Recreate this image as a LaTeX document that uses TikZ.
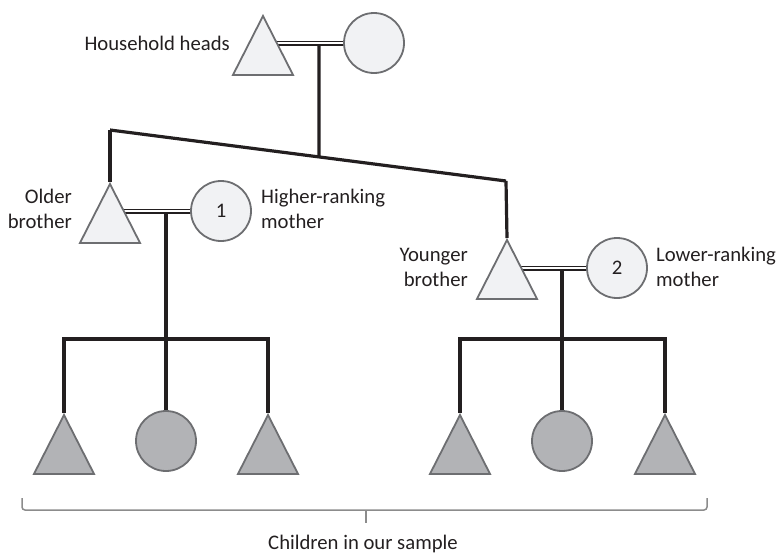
\documentclass[tikz,border=0pt]{standalone}
\usepackage{fontspec}
\setmainfont{Carlito}
\usepackage{tikz}
\usetikzlibrary{shapes.geometric, positioning, calc, backgrounds}
\definecolor{lightfill}{HTML}{F1F2F4}
\definecolor{darkfill}{HTML}{B2B3B6}
\definecolor{outline}{HTML}{6D6E71}
\definecolor{kinline}{HTML}{231F20}
\definecolor{bracegray}{HTML}{8C8C8C}

\begin{document}
\begin{tikzpicture}[
  x=1pt, y=-1pt,
  tri/.style={
    isosceles triangle, isosceles triangle apex angle=54,
    shape border rotate=90, minimum height=59pt, inner sep=0pt,
    draw=outline, line width=1.8pt, fill=lightfill
  },
  circ/.style={
    circle, minimum size=60pt, inner sep=0pt,
    draw=outline, line width=1.8pt, fill=lightfill,
    font=\fontsize{20.7}{25}\selectfont, text=kinline
  },
  child/.style={fill=darkfill},
  kin/.style={draw=kinline, line width=3.2pt},
  marry/.style={draw=kinline, line width=1.4pt, double=white, double distance=2.2pt},
  lbl/.style={font=\fontsize{20.7}{25}\selectfont, text=kinline, inner sep=0pt}
]
  \useasboundingbox (0,0) rectangle (777,557);

  % household heads
  \node[tri, anchor=apex] (hh) at (263,14) {};
  \node[circ] (hw) at (374,43) {};
  \node[lbl, anchor=east, align=right] (hhl) at (230,43) {Household heads};

  % brothers and wives
  \node[tri, anchor=apex] (ob) at (110,182) {};
  \node[circ] (hm) at (221,211) {1};
  \node[tri, anchor=apex] (yb) at (507,238) {};
  \node[circ] (lm) at (617,268) {2};

  \node[lbl, anchor=east, align=right] (obl) at (72,209) {Older\\brother};
  \node[lbl, anchor=west, align=left] (hml) at (261,209) {Higher-ranking\\mother};
  \node[lbl, anchor=east, align=right] (ybl) at (468,267) {Younger\\brother};
  \node[lbl, anchor=west, align=left] (lml) at (656,267) {Lower-ranking\\mother};

  % children
  \node[tri, child, anchor=apex] (c11) at (64,413) {};
  \node[circ, child] (c12) at (166,441) {};
  \node[tri, child, anchor=apex] (c13) at (268,413) {};
  \node[tri, child, anchor=apex] (c21) at (460,413) {};
  \node[circ, child] (c22) at (562,441) {};
  \node[tri, child, anchor=apex] (c23) at (665,413) {};

  \coordinate (m0) at (319,45);
  \coordinate (sL) at (110,130);
  \coordinate (sR) at (506,181);
  \coordinate (m1) at (166,212);
  \coordinate (b1) at (166,339);
  \coordinate (m2) at (562,269);
  \coordinate (b2) at (562,339);

  \begin{scope}[on background layer]
    % marriages
    \draw[marry] (hw) -- (hw -| hh.apex);
    \draw[marry] (hm) -- (hm -| ob.apex);
    \draw[marry] (lm) -- (lm -| yb.apex);
    % siblings
    \draw[kin] (sL) -- (sR);
    \draw[kin] (m0) -- ($(sL)!0.528!(sR)$);
    \draw[kin] (sL) -- (ob.apex);
    \draw[kin] (sR) -- (yb.apex);
    % descent
    \draw[kin] (c11.apex) |- (b1) -| (c13.apex);
    \draw[kin] (m1) -- (c12.north);
    \draw[kin] (c21.apex) |- (b2) -| (c23.apex);
    \draw[kin] (m2) -- (c22.north);
  \end{scope}

  % brace
  \coordinate (bl) at (22,498);
  \coordinate (br) at (707,498);
  \coordinate (bm) at (366,510);
  \draw[bracegray, line width=1.5pt, rounded corners=3pt]
    (bl) -- (22,510) -- (707,510) -- (br);
  \draw[bracegray, line width=1.5pt] (bm) -- ++(0,13);
  \node[lbl] (cis) at (363,544) {Children in our sample};
\end{tikzpicture}
\end{document}
